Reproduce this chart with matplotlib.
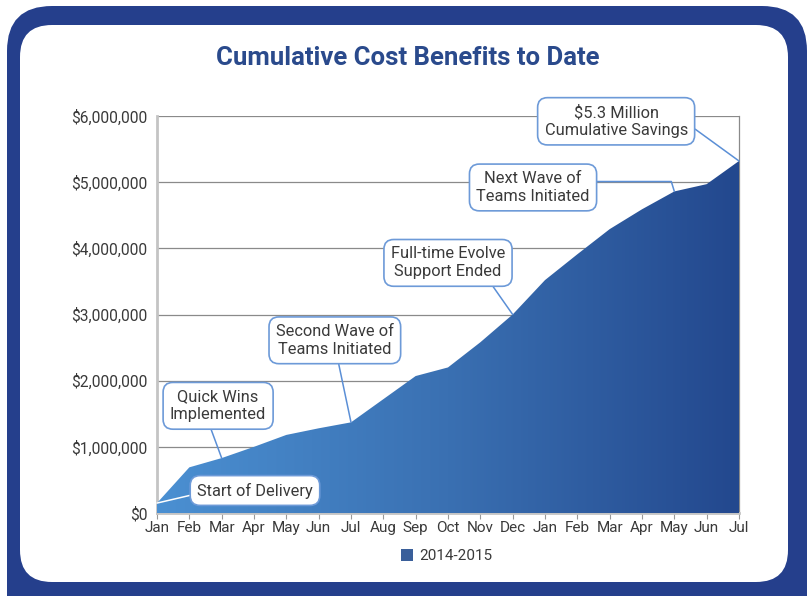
import numpy as np
import matplotlib.pyplot as plt
import matplotlib.colors as mcolors
from matplotlib.patches import FancyBboxPatch, Patch, Polygon

# Datos
months = ["Jan", "Feb", "Mar", "Apr", "May", "Jun", "Jul", "Aug", "Sep", "Oct",
          "Nov", "Dec", "Jan", "Feb", "Mar", "Apr", "May", "Jun", "Jul"]
savings = [150000, 690000, 830000, 1000000, 1180000, 1280000, 1370000, 1720000,
           2070000, 2200000, 2580000, 3000000, 3520000, 3910000, 4290000,
           4590000, 4860000, 4970000, 5320000]
y_ticks = [0, 1000000, 2000000, 3000000, 4000000, 5000000, 6000000]
y_labels = ["$0", "$1,000,000", "$2,000,000", "$3,000,000", "$4,000,000",
            "$5,000,000", "$6,000,000"]
notes = ["Start of Delivery", "Quick Wins\nImplemented", "Second Wave of\nTeams Initiated",
         "Full-time Evolve\nSupport Ended", "Next Wave of\nTeams Initiated",
         "$5.3 Million\nCumulative Savings"]
note_idx = [0, 2, 6, 11, 16, 18]
series_name = "2014-2015"

plt.rcParams['font.family'] = ['Roboto', 'DejaVu Sans']

W, H = 812, 596
fig = plt.figure(figsize=(W / 100, H / 100), dpi=100)
fig.patch.set_facecolor('white')

# Marco de fondo (coordenadas en píxeles)
bg = fig.add_axes([0, 0, 1, 1])
bg.set_xlim(0, W)
bg.set_ylim(H, 0)
bg.axis('off')
bg.add_patch(FancyBboxPatch((7 + 40, 6 + 40), 800 - 80, 640 - 80,
                            boxstyle="round,pad=40,rounding_size=45",
                            facecolor='#253f8c', edgecolor='none'))
bg.add_patch(FancyBboxPatch((20 + 32, 25 + 32), 768 - 64, 557 - 64,
                            boxstyle="round,pad=32,rounding_size=32",
                            facecolor='white', edgecolor='none'))
fig.text(408 / W, 1 - 58 / H, "Cumulative Cost Benefits to Date", ha='center',
         va='center', fontsize=18.5, fontweight='bold', color='#2a4a8c')

# Eje principal
x0, x1, ytop, ybot = 157, 739, 116, 513
ax = fig.add_axes([x0 / W, 1 - ybot / H, (x1 - x0) / W, (ybot - ytop) / H])
ax.patch.set_alpha(0)
x = np.arange(len(months))
ax.set_xlim(0, len(months) - 1)
ax.set_ylim(0, 6000000)

# Relleno con degradado
grad = np.linspace(0, 1, 256).reshape(1, -1)
cmap = mcolors.LinearSegmentedColormap.from_list('g', ['#4b90d2', '#3a70b2', '#23488e'])
img = ax.imshow(grad, extent=[0, len(months) - 1, 0, 6000000], aspect='auto',
                cmap=cmap, zorder=3, origin='lower')
verts = [(0, 0)] + list(zip(x, savings)) + [(len(months) - 1, 0)]
poly = Polygon(verts, closed=True, facecolor='none', edgecolor='none')
ax.add_patch(poly)
img.set_clip_path(poly)

ax.set_yticks(y_ticks)
ax.set_yticklabels(y_labels)
ax.set_xticks(x)
ax.set_xticklabels(months)
ax.yaxis.grid(True, color='#8a8a8a', lw=0.9, zorder=1)
ax.set_axisbelow(True)
ax.tick_params(axis='y', length=0, pad=7, labelsize=11.2, labelcolor='#3a3a3a')
ax.tick_params(axis='x', length=4, color='#999999', pad=2, labelsize=11,
               labelcolor='#3a3a3a')
for s in ['left', 'bottom']:
    ax.spines[s].set_color('#c4c4c4')
    ax.spines[s].set_linewidth(2)
ax.spines['right'].set_color('#8a8a8a')
ax.spines['right'].set_linewidth(0.9)
ax.spines['top'].set_visible(False)

# Anotaciones
text_pos = [(3.03, 340000), (1.89, 1620000), (5.5, 2610000),
            (9.0, 3780000), (11.63, 4920000), (14.2, 5920000)]
relpos = [(0, 0.3), (0.4, 0), (0.52, 0), (0.85, 0), (1, 0.68), (1, 0.27)]
conn = ["arc3", "arc3", "arc3", "arc3",
        "angle,angleA=0,angleB=107,rad=0", "angle,angleA=0,angleB=144,rad=0"]
line_col = ['white', '#5b8fd6', '#5b8fd6', '#5b8fd6', '#5b8fd6', '#5b8fd6']
for i in range(len(notes)):
    ax.annotate(notes[i], xy=(x[note_idx[i]], savings[note_idx[i]]), xytext=text_pos[i],
                ha='center', va='center', fontsize=11.8, color='#3a3a3a',
                linespacing=1.25, zorder=6, annotation_clip=False,
                bbox=dict(boxstyle="round,pad=0.42,rounding_size=0.6",
                          facecolor='white', edgecolor='#6d9ad8', lw=1.2),
                arrowprops=dict(arrowstyle='-', color=line_col[i], lw=1.1,
                                relpos=relpos[i], connectionstyle=conn[i],
                                shrinkA=0, shrinkB=0))

fig.legend(handles=[Patch(facecolor='#3a5f9a', edgecolor='none', label=series_name)],
           loc='center', bbox_to_anchor=(447 / W, 1 - 556 / H), frameon=False,
           fontsize=11, handlelength=0.8, handleheight=0.8, handletextpad=0.4,
           labelcolor='#3a3a3a')

fig.savefig("out.png", dpi=100)
